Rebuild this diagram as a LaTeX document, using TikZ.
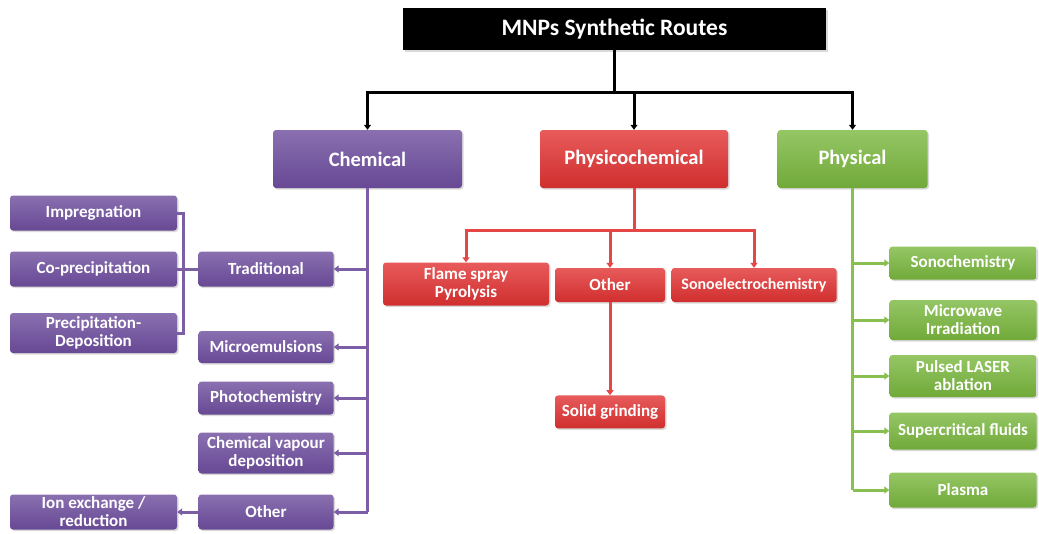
\documentclass[tikz,border=0pt]{standalone}
\usepackage{fontspec}
\setsansfont{Carlito}
\usetikzlibrary{positioning}
\usetikzlibrary{arrows.meta}
\usetikzlibrary{calc, shadows}
\definecolor{chemPurple}{RGB}{108,76,156}
\definecolor{pcRed}{RGB}{226,50,50}
\definecolor{physGreen}{RGB}{122,184,62}
\tikzset{%
	% Specifications for style of nodes:
	base/.style = {rectangle, rounded corners=3pt, draw=none, text=white,
		inner sep=2pt, align=center, font=\sffamily\bfseries\fontsize{17pt}{18pt}\selectfont,
		drop shadow={opacity=0.3, shadow xshift=1.5pt, shadow yshift=-1.5pt}},
	rootBox/.style = {base, rounded corners=0pt, fill=black, minimum width=423pt,
		minimum height=42pt, font=\sffamily\bfseries\fontsize{23.5pt}{25pt}\selectfont},
	groupBox/.style = {minimum height=58pt, font=\sffamily\bfseries\fontsize{20.5pt}{24pt}\selectfont},
	chemBox/.style = {base, top color=chemPurple!80!white, bottom color=chemPurple!95!black},
	pcBox/.style = {base, top color=pcRed!80!white, bottom color=pcRed!92!black},
	physBox/.style = {base, top color=physGreen!80!white, bottom color=physGreen!92!black},
	% Specifications for style of connectors:
	link/.style = {line width=3pt, -{Triangle[length=5pt,width=7pt]}},
	chemLink/.style = {link, draw=chemPurple!90!white},
	pcLink/.style = {link, draw=pcRed!90!white},
	physLink/.style = {link, draw=physGreen!90!white},
}
\begin{document}
\begin{tikzpicture}[x=1pt, y=1pt]
\useasboundingbox (0,0) rectangle (1039,-533);

\node (root) [rootBox] at (614.5,-29) {MNPs Synthetic Routes};
\node (chem) [chemBox, groupBox, minimum width=189pt] at (367.5,-159) {Chemical};
\node (physchem) [pcBox, groupBox, minimum width=188pt] at (634,-159) {Physicochemical};
\node (phys) [physBox, groupBox, minimum width=150pt] at (852.5,-159) {Physical};

\coordinate (topBar) at (614.5,-92);
\draw[link, -] (root.south) -- (topBar);
\draw[link] (topBar) -| (chem.north);
\draw[link] (topBar) -| (physchem.north);
\draw[link] (topBar) -| (phys.north);

% Chemical routes
\node (trad) [chemBox, minimum width=135pt, minimum height=35pt] at (266,-269) {Traditional};
\node (microEm) [chemBox, minimum width=135pt, minimum height=32pt] at (266,-347) {Microemulsions};
\node (photoChem) [chemBox, minimum width=135pt, minimum height=33pt] at (266,-398) {Photochemistry};
\node (cvd) [chemBox, minimum width=135pt, minimum height=41pt] at (266,-453) {Chemical vapour\\deposition};
\node (chemOther) [chemBox, minimum width=135pt, minimum height=35pt] at (266,-512) {Other};
\node (impreg) [chemBox, minimum width=167pt, minimum height=35pt] at (93.5,-213) {Impregnation};
\node (coprec) [chemBox, minimum width=167pt, minimum height=35pt] at (93.5,-269) {Co-precipitation};
\node (precip) [chemBox, minimum width=167pt, minimum height=40pt] at (93.5,-333) {Precipitation-\\Deposition};
\node (ionEx) [chemBox, minimum width=167pt, minimum height=35pt] at (93.5,-512) {Ion exchange /\\reduction};

\draw[chemLink, -] (chem.south) -- (chem.south |- chemOther.east);
\foreach \n in {trad, microEm, photoChem, cvd, chemOther}
	\draw[chemLink] (chem.south |- \n.east) -- (\n.east);
\coordinate (tradJoin) at (183,-269);
\draw[chemLink, -] (trad.west) -- (tradJoin);
\draw[chemLink, -] (impreg.east) -| (tradJoin);
\draw[chemLink, -] (precip.east) -| (tradJoin);
\draw[chemLink, -] (coprec.east) -- (tradJoin);
\draw[chemLink] (chemOther.west) -- (ionEx.east);

% Physicochemical routes
\node (flame) [pcBox, minimum width=166pt, minimum height=43pt] at (466,-284) {Flame spray\\Pyrolysis};
\node (pcOther) [pcBox, minimum width=110pt, minimum height=34pt] at (610,-285) {Other};
\node (sonoElec) [pcBox, minimum width=165pt, minimum height=34pt,
	font=\sffamily\bfseries\fontsize{16pt}{18pt}\selectfont] at (754,-285) {Sonoelectrochemistry};
\node (grind) [pcBox, minimum width=110pt, minimum height=33pt, below=93pt of pcOther] {Solid grinding};

\coordinate (pcBar) at (634,-230);
\draw[pcLink, -] (physchem.south) -- (pcBar);
\draw[pcLink] (pcBar) -| (flame.north);
\draw[pcLink] (pcBar) -| (pcOther.north);
\draw[pcLink] (pcBar) -| (sonoElec.north);
\draw[pcLink] (pcOther) -- (grind);

% Physical routes
\node (sonoChem) [physBox, minimum width=147pt, minimum height=33pt] at (963,-263) {Sonochemistry};
\node (microwave) [physBox, minimum width=147pt, minimum height=40pt] at (963,-320) {Microwave\\Irradiation};
\node (laser) [physBox, minimum width=147pt, minimum height=42pt] at (963,-376) {Pulsed LASER\\ablation};
\node (supercrit) [physBox, minimum width=147pt, minimum height=37pt] at (963,-431) {Supercritical fluids};
\node (plasma) [physBox, minimum width=147pt, minimum height=35pt] at (963,-490) {Plasma};

\draw[physLink, -] (phys.south) -- (phys.south |- plasma.west);
\foreach \n in {sonoChem, microwave, laser, supercrit, plasma}
	\draw[physLink] (phys.south |- \n.west) -- (\n.west);
\end{tikzpicture}
\end{document}
